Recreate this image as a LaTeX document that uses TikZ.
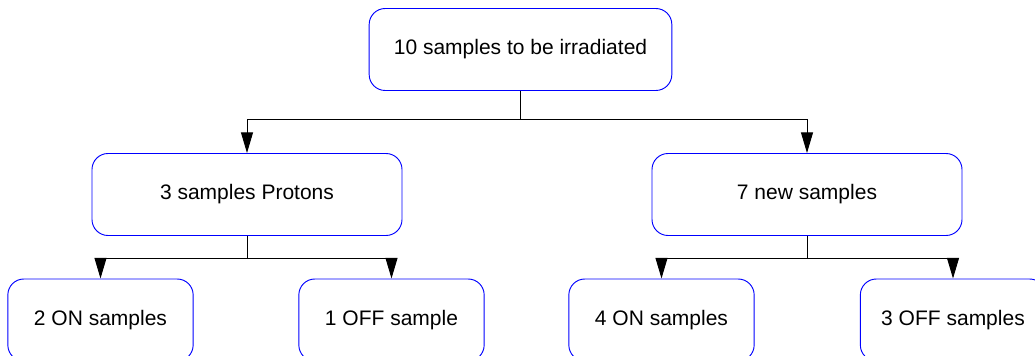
\documentclass[tikz,border=0pt]{standalone}
\usepackage{fontspec}
\setmainfont{Liberation Sans}
\usetikzlibrary{positioning, arrows.meta}
\tikzset{
    arrow/.style={draw,line width=0.7pt,-{Triangle[length=15.5pt,width=9pt]}},
    block/.style={shape=rectangle,draw=blue,line width=0.7pt,rounded corners=12pt,
        minimum width=232.5pt,minimum height=61.5pt,
        font=\fontsize{15.75}{19}\selectfont},
    leaf/.style={block,minimum width=139pt}
}

\begin{document}
\begin{tikzpicture}[x=0.75pt,y=-0.75pt]
    \useasboundingbox (0,0) rectangle (1035,356);

    % nodes
    \node [block, minimum width=227pt] at (520.5,49.5) (all)  {10 samples to be irradiated};
    \node [block]                      at (247,194.5)  (prot) {3 samples Protons};
    \node [block]                      at (807,194.5)  (new)  {7 new samples};

    \node [leaf] at (100.5,320) (pon)  {2 ON samples};
    \node [leaf] at (391.5,320) (poff) {1 OFF sample};
    \node [leaf] at (661.5,320) (non)  {4 ON samples};
    \node [leaf] at (953,320)   (noff) {3 OFF samples};

    % zwischenpunkte unter den boxen
    \draw [line width=0.7pt] (all.south)  -- ++(0,29) coordinate (zp1);
    \draw [line width=0.7pt] (prot.south) -- ++(0,22) coordinate (zp2);
    \draw [line width=0.7pt] (new.south)  -- ++(0,22) coordinate (zp3);

    % draw arrows
    \begin{scope}[arrow]
        \draw (zp1) -| (prot.north);
        \draw (zp1) -| (new.north);
        \draw (zp2) -| (pon.north);
        \draw (zp2) -| (poff.north);
        \draw (zp3) -| (non.north);
        \draw (zp3) -| (noff.north);
    \end{scope}
\end{tikzpicture}
\end{document}
